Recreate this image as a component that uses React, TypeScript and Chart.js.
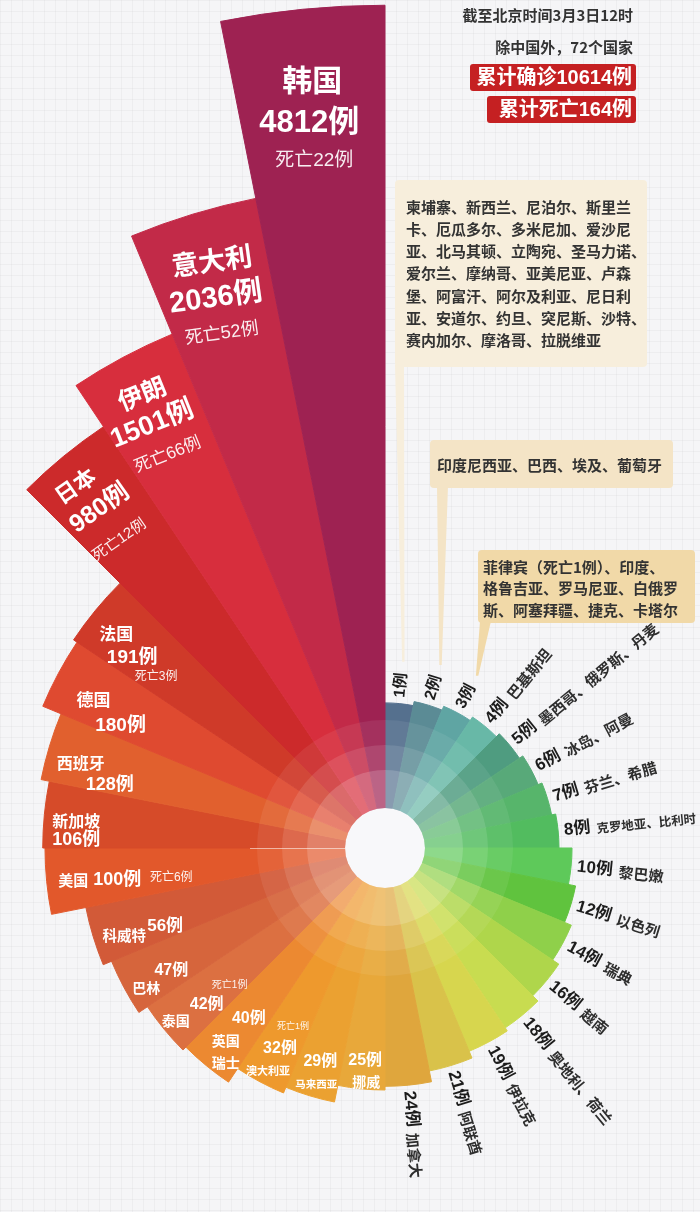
import React, { useEffect, useRef } from 'react';
import { Chart, registerables, RadialLinearScale } from 'chart.js';

// ---------------- DATA ----------------
const COUNTS = [1, 2, 3, 4, 5, 6, 7, 8, 10, 12, 14, 16, 18, 19, 21, 24, 25, 29, 32, 40, 42, 47, 56, 100, 106, 128, 180, 191, 980, 1501, 2036, 4812];
const COUNTRIES = [
  '', '', '', '巴基斯坦', '墨西哥、俄罗斯、丹麦', '冰岛、阿曼', '芬兰、希腊', '克罗地亚、比利时',
  '黎巴嫩', '以色列', '瑞典', '越南', '奥地利、荷兰', '伊拉克', '阿联酋', '加拿大',
  '挪威', '马来西亚', '澳大利亚', '英国\n瑞士', '泰国', '巴林', '科威特', '美国',
  '新加坡', '西班牙', '德国', '法国', '日本', '伊朗', '意大利', '韩国',
];
const DEATHS = [0, 0, 0, 0, 0, 0, 0, 0, 0, 0, 0, 0, 0, 0, 0, 0, 0, 0, 1, 0, 1, 0, 0, 6, 0, 0, 0, 3, 12, 66, 52, 22];
const GROUP_1_CASE = [
  '柬埔寨、新西兰、尼泊尔、斯里兰',
  '卡、厄瓜多尔、多米尼加、爱沙尼',
  '亚、北马其顿、立陶宛、圣马力诺、',
  '爱尔兰、摩纳哥、亚美尼亚、卢森',
  '堡、阿富汗、阿尔及利亚、尼日利',
  '亚、安道尔、约旦、突尼斯、沙特、',
  '赛内加尔、摩洛哥、拉脱维亚',
];
const GROUP_2_CASES = ['印度尼西亚、巴西、埃及、葡萄牙'];
const GROUP_3_CASES = ['菲律宾（死亡1例）、印度、', '格鲁吉亚、罗马尼亚、白俄罗', '斯、阿塞拜疆、捷克、卡塔尔'];
const HEADER_DATE = '截至北京时间3月3日12时';
const HEADER_SCOPE = '除中国外，72个国家';
const TOTAL_CASES = 10614;
const TOTAL_DEATHS = 164;

// ---------------- STYLE ----------------
const COLORS = [
  '#55708e', '#5b8b95', '#5fa5a3', '#68b8a7', '#4f9c80', '#58a979', '#57b56b', '#52bc5f',
  '#5ec95a', '#60c33e', '#8fd04a', '#afd64b', '#c8dc50', '#d7d64e', '#d9c24a', '#dfa63d',
  '#e8a83a', '#eba131', '#ee992d', '#ec8931', '#dc7041', '#d6653c', '#d25a38', '#e2582b',
  '#d64b29', '#e1602e', '#df4a30', '#cf3a29', '#cc2a2b', '#d72e3d', '#c22a48', '#9e2252',
];

// radial scale knots: [value, radius in reference px]
const RADIUS_KNOTS: [number, number][] = [
  [0, 141], [8, 174], [10, 187], [25, 242], [29, 259], [47, 296], [56, 305], [100, 340], [200, 378],
  [1000, 510], [1500, 556], [2000, 660], [5000, 855],
];
const KNOT_REF = 315;

const FONT_CJK = '"Noto Sans CJK SC", "Liberation Sans", sans-serif';
const FONT_NUM = '"Liberation Sans", "Noto Sans CJK SC", sans-serif';

type LineSpec = { kind: 'name' | 'name2' | 'count' | 'death'; size: number; bold?: boolean; dx: number; dy: number };
type LabelSpec = { rot: number; lines: LineSpec[] };

const LEFT_LABELS: Record<number, LabelSpec> = {
  31: { rot: 0, lines: [
    { kind: 'name', size: 30, bold: true, dx: 0, dy: -30 },
    { kind: 'count', size: 31, bold: true, dx: -3, dy: 14 },
    { kind: 'death', size: 19, dx: 2, dy: 51 }] },
  30: { rot: -8, lines: [
    { kind: 'name', size: 27, bold: true, dx: 0, dy: -30 },
    { kind: 'count', size: 29, bold: true, dx: -1, dy: 8 },
    { kind: 'death', size: 18, dx: 0, dy: 44 }] },
  29: { rot: -22, lines: [
    { kind: 'name', size: 25, bold: true, dx: -3, dy: -26 },
    { kind: 'count', size: 27, bold: true, dx: -5, dy: 7 },
    { kind: 'death', size: 17, dx: -2, dy: 41 }] },
  28: { rot: -35, lines: [
    { kind: 'name', size: 22, bold: true, dx: -12, dy: -30 },
    { kind: 'count', size: 25, bold: true, dx: -5, dy: 3 },
    { kind: 'death', size: 15, dx: -7, dy: 40 }] },
  27: { rot: 0, lines: [
    { kind: 'name', size: 17, bold: true, dx: -14, dy: -5 },
    { kind: 'count', size: 19, bold: true, dx: 2, dy: 19 },
    { kind: 'death', size: 12, dx: 26, dy: 38 }] },
  26: { rot: 0, lines: [
    { kind: 'name', size: 17, bold: true, dx: -4, dy: 5 },
    { kind: 'count', size: 19, bold: true, dx: 23, dy: 31 }] },
  25: { rot: 0, lines: [
    { kind: 'name', size: 16, bold: true, dx: -9, dy: 4 },
    { kind: 'count', size: 18, bold: true, dx: 20, dy: 27 }] },
  24: { rot: 0, lines: [
    { kind: 'name', size: 16, bold: true, dx: -9, dy: 2 },
    { kind: 'count', size: 18, bold: true, dx: -9, dy: 22 }] },
  23: { rot: 0, lines: [
    { kind: 'name', size: 15, bold: true, dx: -14, dy: 3 },
    { kind: 'count', size: 18, bold: true, dx: 30, dy: 3 },
    { kind: 'death', size: 12, dx: 84, dy: 0 }] },
  22: { rot: 0, lines: [
    { kind: 'name', size: 14.5, bold: true, dx: -4, dy: 10 },
    { kind: 'count', size: 17, bold: true, dx: 37, dy: 0 }] },
  21: { rot: 0, lines: [
    { kind: 'count', size: 16, bold: true, dx: 16, dy: 0 },
    { kind: 'name', size: 14, bold: true, dx: -9, dy: 17 }] },
  20: { rot: 0, lines: [
    { kind: 'death', size: 10, dx: 39, dy: -22 },
    { kind: 'count', size: 16, bold: true, dx: 16, dy: -3 },
    { kind: 'name', size: 14, bold: true, dx: -15, dy: 13 }] },
  19: { rot: 0, lines: [
    { kind: 'count', size: 16, bold: true, dx: 21, dy: -21 },
    { kind: 'name', size: 14, bold: true, dx: -2, dy: 1 },
    { kind: 'name2', size: 14, bold: true, dx: -2, dy: 23 }] },
  18: { rot: 0, lines: [
    { kind: 'death', size: 9, dx: 18, dy: -27 },
    { kind: 'count', size: 16, bold: true, dx: 5, dy: -5 },
    { kind: 'name', size: 11, bold: true, dx: -7, dy: 17 }] },
  17: { rot: 0, lines: [
    { kind: 'count', size: 16, bold: true, dx: 1.5, dy: -5 },
    { kind: 'name', size: 10.5, bold: true, dx: -2.5, dy: 18 }] },
  16: { rot: 0, lines: [
    { kind: 'count', size: 16, bold: true, dx: 1, dy: 1 },
    { kind: 'name', size: 14, bold: true, dx: 2, dy: 22 }] },
};

const CALLOUTS = [
  { index: 0, lines: GROUP_1_CASE, box: [395, 180, 252, 187], fill: '#f7eedc', textX: 406, textY: 207, lineH: 22.2, tail: [395, 404] },
  { index: 1, lines: GROUP_2_CASES, box: [430, 440, 243, 48], fill: '#f4e4c6', textX: 437, textY: 465, lineH: 22, tail: [437, 448] },
  { index: 2, lines: GROUP_3_CASES, box: [478, 550, 217, 73], fill: '#f1d9a8', textX: 483, textY: 567, lineH: 21.5, tail: [480, 491] },
];

// ---------------- CUSTOM SCALE ----------------
class RoseRadialScale extends RadialLinearScale {
  static id = 'roseRadial';
  getDistanceFromCenterForValue(value: number) {
    if (value === null || value === undefined || isNaN(value)) return NaN;
    const k = RADIUS_KNOTS;
    let r: number;
    if (value <= k[0][0]) r = k[0][1];
    else if (value >= k[k.length - 1][0]) r = k[k.length - 1][1];
    else {
      let j = 0;
      while (j < k.length - 1 && value > k[j + 1][0]) j++;
      const [v0, r0] = k[j];
      const [v1, r1] = k[j + 1];
      r = r0 + ((value - v0) / (v1 - v0)) * (r1 - r0);
    }
    return (r * (this as any).drawingArea) / KNOT_REF;
  }
}

Chart.register(...registerables, RoseRadialScale);

function roundRect(ctx: CanvasRenderingContext2D, x: number, y: number, w: number, h: number, r: number) {
  ctx.beginPath();
  ctx.moveTo(x + r, y);
  ctx.lineTo(x + w - r, y);
  ctx.quadraticCurveTo(x + w, y, x + w, y + r);
  ctx.lineTo(x + w, y + h - r);
  ctx.quadraticCurveTo(x + w, y + h, x + w - r, y + h);
  ctx.lineTo(x + r, y + h);
  ctx.quadraticCurveTo(x, y + h, x, y + h - r);
  ctx.lineTo(x, y + r);
  ctx.quadraticCurveTo(x, y, x + r, y);
  ctx.closePath();
}

const decorPlugin = {
  id: 'roseDecor',
  afterDatasetsDraw(chart: any) {
    const ctx: CanvasRenderingContext2D = chart.ctx;
    const scale = chart.scales.r;
    const cx = scale.xCenter;
    const cy = scale.yCenter;
    const unit = scale.drawingArea / KNOT_REF;
    const meta = chart.getDatasetMeta(0);

    // inner translucent rings
    const rings: [number, number, number][] = [[40, 78, 0.3], [78, 103, 0.17], [103, 128, 0.07]];
    ctx.save();
    rings.forEach(([r0, r1, a]) => {
      ctx.beginPath();
      ctx.arc(cx, cy, r1 * unit, 0, Math.PI * 2);
      ctx.arc(cx, cy, r0 * unit, 0, Math.PI * 2, true);
      ctx.fillStyle = `rgba(255,255,255,${a})`;
      ctx.fill();
    });
    // thin light seam at 9 o'clock
    ctx.strokeStyle = 'rgba(255,255,255,0.55)';
    ctx.lineWidth = 1;
    ctx.beginPath();
    ctx.moveTo(cx - 40 * unit, cy + 0.5);
    ctx.lineTo(cx - 135 * unit, cy + 0.5);
    ctx.stroke();
    ctx.beginPath();
    ctx.arc(cx, cy, 40 * unit, 0, Math.PI * 2);
    ctx.fillStyle = '#f8f8fa';
    ctx.fill();
    ctx.restore();

    const geo = meta.data.map((arc: any) => {
      const p = arc.getProps(['startAngle', 'endAngle', 'outerRadius'], true);
      return { mid: (p.startAngle + p.endAngle) / 2, outer: p.outerRadius };
    });

    // right side labels (outside, radial)
    for (let i = 0; i < 16; i++) {
      const { mid, outer } = geo[i];
      ctx.save();
      ctx.translate(cx, cy);
      ctx.rotate(mid);
      ctx.textBaseline = 'middle';
      ctx.textAlign = 'left';
      ctx.fillStyle = '#1c1c1c';
      const countText = `${COUNTS[i]}例`;
      const x0 = outer + 6;
      ctx.font = `bold ${i < 3 ? 16 : 17}px ${FONT_NUM}`;
      ctx.fillText(countText, x0, 0);
      if (COUNTRIES[i]) {
        const w = ctx.measureText(countText).width;
        ctx.font = `bold ${i === 7 ? 12.5 : 15}px ${FONT_CJK}`;
        ctx.fillStyle = '#2e2e2e';
        ctx.fillText(COUNTRIES[i], x0 + w + 6, 1);
      }
      ctx.restore();
    }

    // left side labels (inside, white)
    for (let i = 16; i < COUNTS.length; i++) {
      const spec = LEFT_LABELS[i];
      if (!spec) continue;
      const { mid, outer } = geo[i];
      const rl = outer * 0.88;
      const ax = cx + Math.cos(mid) * rl;
      const ay = cy + Math.sin(mid) * rl;
      const names = COUNTRIES[i].split('\n');
      ctx.save();
      ctx.translate(ax, ay);
      ctx.rotate((spec.rot * Math.PI) / 180);
      ctx.textAlign = 'center';
      ctx.textBaseline = 'middle';
      spec.lines.forEach((ln) => {
        let text = '';
        let fam = FONT_CJK;
        if (ln.kind === 'name') text = names[0];
        else if (ln.kind === 'name2') text = names[1] || '';
        else if (ln.kind === 'count') { text = `${COUNTS[i]}例`; fam = FONT_NUM; }
        else { text = `死亡${DEATHS[i]}例`; fam = FONT_NUM; }
        ctx.font = `${ln.bold ? 'bold ' : ''}${ln.size}px ${fam}`;
        ctx.fillStyle = ln.kind === 'death' ? 'rgba(255,255,255,0.92)' : '#ffffff';
        ctx.fillText(text, ln.dx * unit, ln.dy * unit);
      });
      ctx.restore();
    }

    // callouts for 1/2/3 cases
    CALLOUTS.forEach((c) => {
      const { mid, outer } = geo[c.index];
      const tipR = outer + 42;
      const tx = cx + Math.cos(mid) * tipR;
      const ty = cy + Math.sin(mid) * tipR;
      const [bx, by, bw, bh] = c.box;
      ctx.save();
      ctx.fillStyle = c.fill;
      ctx.beginPath();
      ctx.moveTo(c.tail[0], by + bh - 2);
      ctx.lineTo(c.tail[1], by + bh - 2);
      ctx.lineTo(tx + 1.2, ty);
      ctx.lineTo(tx - 1.2, ty);
      ctx.closePath();
      ctx.fill();
      roundRect(ctx, bx, by, bw, bh, 4);
      ctx.fill();
      ctx.fillStyle = '#333333';
      ctx.font = `bold 15px ${FONT_CJK}`;
      ctx.textAlign = 'left';
      ctx.textBaseline = 'middle';
      c.lines.forEach((t, j) => ctx.fillText(t, c.textX, c.textY + j * c.lineH));
      ctx.restore();
    });

    // header
    ctx.save();
    ctx.textAlign = 'right';
    ctx.textBaseline = 'middle';
    ctx.fillStyle = '#333333';
    ctx.font = `bold 15px ${FONT_CJK}`;
    ctx.fillText(HEADER_DATE, 633, 15);
    ctx.fillText(HEADER_SCOPE, 633, 47);
    ctx.fillStyle = '#c52022';
    roundRect(ctx, 470, 64, 166, 27, 3);
    ctx.fill();
    roundRect(ctx, 487, 96, 149, 27, 3);
    ctx.fill();
    ctx.fillStyle = '#ffffff';
    ctx.font = `bold 20px ${FONT_NUM}`;
    ctx.fillText(`累计确诊${TOTAL_CASES}例`, 632, 78.5);
    ctx.fillText(`累计死亡${TOTAL_DEATHS}例`, 632, 110.5);
    ctx.restore();
  },
};

export default function App() {
  const ref = useRef<HTMLCanvasElement>(null);
  useEffect(() => {
    document.body.style.margin = '0';
    const chart = new Chart(ref.current as HTMLCanvasElement, {
      type: 'polarArea',
      data: {
        labels: COUNTS.map((c, i) => (COUNTRIES[i] ? COUNTRIES[i].replace('\n', '、') : `${c}例`)),
        datasets: [{
          data: COUNTS,
          backgroundColor: COLORS,
          borderColor: COLORS,
          borderWidth: 1,
          clip: false,
        } as any],
      },
      options: {
        responsive: false,
        animation: false,
        events: [],
        layout: { padding: { left: 70, right: 0, top: 484, bottom: 0 } },
        plugins: { legend: { display: false }, tooltip: { enabled: false } },
        scales: {
          r: {
            type: 'roseRadial' as any,
            beginAtZero: true,
            grid: { display: false },
            angleLines: { display: false },
            ticks: { display: false },
            pointLabels: { display: false },
          } as any,
        },
      },
      plugins: [decorPlugin],
    });
    return () => chart.destroy();
  }, []);

  return (
    <div
      style={{
        position: 'relative',
        width: 700,
        height: 1212,
        backgroundColor: '#f5f5f7',
        backgroundImage:
          'linear-gradient(rgba(0,0,0,0.03) 1px, transparent 1px), linear-gradient(90deg, rgba(0,0,0,0.03) 1px, transparent 1px)',
        backgroundSize: '11px 11px',
      }}
    >
      <canvas ref={ref} width={700} height={1212} style={{ display: 'block', width: 700, height: 1212 }} />
    </div>
  );
}
